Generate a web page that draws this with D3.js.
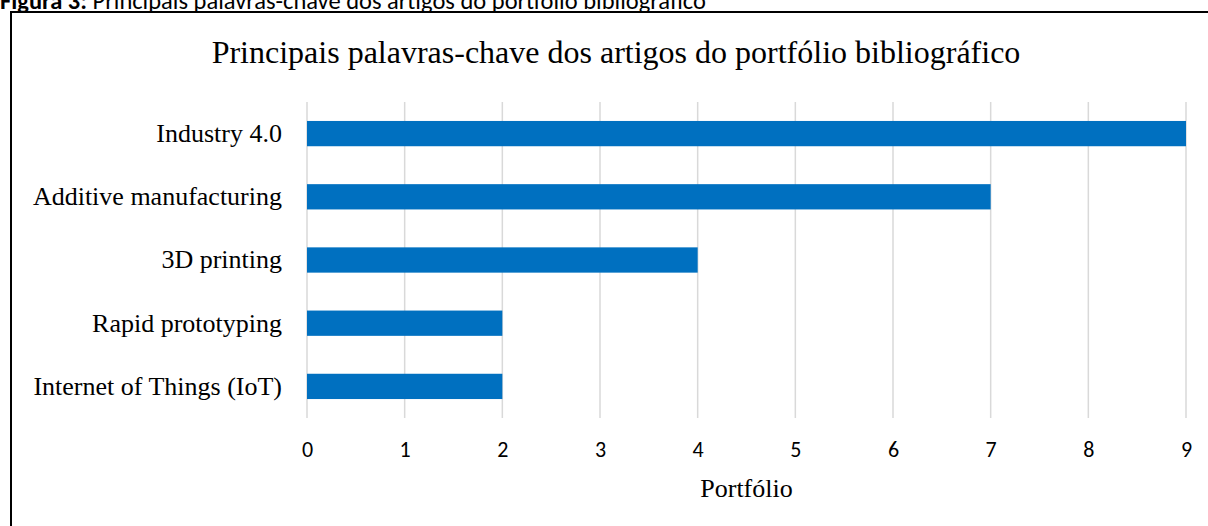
<!DOCTYPE html>
<html>
<head>
<meta charset="utf-8">
<script src="https://cdn.jsdelivr.net/npm/d3@7"></script>
<style>
  body { margin: 0; background: #fff; }
  svg { display: block; }
</style>
</head>
<body>
<div id="chart"></div>
<script>
// data
const keywords = ["Industry 4.0", "Additive manufacturing", "3D printing", "Rapid prototyping", "Internet of Things (IoT)"];
const counts = [9, 7, 4, 2, 2];
const xTicks = [0, 1, 2, 3, 4, 5, 6, 7, 8, 9];

const W = 1208, H = 526;
let margin = {top: 102, right: 22, bottom: 108, left: 307},
    width = W - margin.left - margin.right,
    height = H - margin.top - margin.bottom;

const calibri = "Carlito, 'Open Sans', 'Liberation Sans', sans-serif";
const times = "'Liberation Serif', 'DejaVu Serif', serif";

const svg = d3.select("#chart")
    .append("svg")
        .attr("width", W)
        .attr("height", H);

// caption above the frame (cut at the top in the original)
const cap = svg.append("text")
    .attr("x", 0)
    .attr("y", 9)
    .attr("font-family", calibri)
    .attr("font-size", 24.5)
    .attr("fill", "#000");
cap.append("tspan").attr("font-weight", "bold").text("Figura 3:");
cap.append("tspan").text(" Principais palavras-chave dos artigos do portfólio bibliográfico");

// frame
svg.append("rect")
    .attr("x", 11)
    .attr("y", 12)
    .attr("width", W)
    .attr("height", H)
    .attr("fill", "none")
    .attr("stroke", "#000")
    .attr("stroke-width", 2);

const g = svg.append("g")
    .attr("transform", `translate(${margin.left}, ${margin.top})`);

const x = d3.scaleLinear()
    .domain([0, 9])
    .range([0, 879]);

const y = d3.scaleBand()
    .domain(keywords)
    .range([0, height])
    .paddingInner(0.6)
    .paddingOuter(0.3);

// gridlines
g.append("g")
    .selectAll("line")
    .data(xTicks)
    .join("line")
        .attr("x1", d => x(d))
        .attr("x2", d => x(d))
        .attr("y1", 0)
        .attr("y2", height)
        .attr("stroke", "#d9d9d9")
        .attr("stroke-width", 1.5);

// bars
g.selectAll(".bar")
    .data(keywords)
    .join("rect")
        .attr("class", "bar")
        .attr("x", x(0))
        .attr("y", d => y(d))
        .attr("width", (d, i) => x(counts[i]) - x(0))
        .attr("height", y.bandwidth())
        .attr("fill", "#0070c0");

// x axis
const xAxis = g.append("g")
    .attr("transform", `translate(0, ${height})`)
    .call(d3.axisBottom(x).tickValues(xTicks).tickSize(0).tickPadding(23));
xAxis.select(".domain").remove();
xAxis.selectAll("text")
    .attr("font-family", calibri)
    .attr("font-size", 22)
    .attr("fill", "#000");

// y axis
const yAxis = g.append("g")
    .call(d3.axisLeft(y).tickSize(0).tickPadding(25));
yAxis.select(".domain").remove();
yAxis.selectAll("text")
    .attr("font-family", times)
    .attr("font-size", 26)
    .attr("fill", "#000");

// title
svg.append("text")
    .attr("x", 616)
    .attr("y", 63)
    .attr("text-anchor", "middle")
    .attr("font-family", times)
    .attr("font-size", 32)
    .attr("fill", "#000")
    .text("Principais palavras-chave dos artigos do portfólio bibliográfico");

// axis title
svg.append("text")
    .attr("x", margin.left + x(4.5))
    .attr("y", 497)
    .attr("text-anchor", "middle")
    .attr("font-family", times)
    .attr("font-size", 26)
    .attr("fill", "#000")
    .text("Portfólio");
</script>
</body>
</html>
